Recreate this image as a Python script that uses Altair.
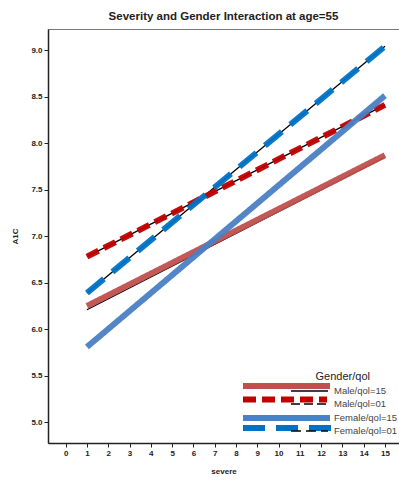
import altair as alt
import pandas as pd

# ---- data ----
series = ["Male/qol=15", "Male/qol=01", "Female/qol=15", "Female/qol=01"]
severe = [1, 15]
a1c_male15 = [6.25, 7.87]
a1c_male01 = [6.78, 8.41]
a1c_female15 = [5.81, 8.51]
a1c_female01 = [6.39, 9.04]
# thin black companion lines drawn underneath
black_series = ["Male/qol=15", "Male/qol=01", "Female/qol=01"]
black_male15 = [6.21, 7.85]
black_male01 = [6.78, 8.41]
black_female01 = [6.39, 9.04]

colors = ["#C0504D", "#C00000", "#4A80C4", "#0072C6"]
dashes = [[1, 0], [13, 6], [1, 0], [22, 11]]

x_ticks = list(range(0, 16))
y_ticks = [5.0, 5.5, 6.0, 6.5, 7.0, 7.5, 8.0, 8.5, 9.0]

# legend layout (pixels inside the plot area)
leg_y = [357, 370.5, 389, 399]
leg_x1 = [195, 195, 195, 195]
leg_x2 = [282, 279, 282, 291]
leg_black = ["Male/qol=15", "Male/qol=01", "Female/qol=01"]
leg_black_y = [362, 375, 402]
leg_black_dash = [[1, 0], [9, 4], [10, 5]]
leg_label_y = [362, 374.5, 389, 402]

W, H = 351, 414

vals = [a1c_male15, a1c_male01, a1c_female15, a1c_female01]
rows = []
for s, v in zip(series, vals):
    for x, y in zip(severe, v):
        rows.append({"group": s, "severe": x, "A1C": y})
df = pd.DataFrame(rows)

brows = []
for s, v in zip(black_series, [black_male15, black_male01, black_female01]):
    for x, y in zip(severe, v):
        brows.append({"group": s, "severe": x, "A1C": y})
bdf = pd.DataFrame(brows)

xs = alt.Scale(domain=[-0.83, 15.66], nice=False, zero=False)
ys = alt.Scale(domain=[4.778, 9.226], nice=False, zero=False)

xenc = alt.X("severe:Q", scale=xs, title="severe",
             axis=alt.Axis(values=x_ticks, format="d", grid=False))
yenc = alt.Y("A1C:Q", scale=ys, title="A1C",
             axis=alt.Axis(values=y_ticks, format=".1f", grid=False))

color = alt.Color("group:N", scale=alt.Scale(domain=series, range=colors),
                  legend=None)
dash = alt.StrokeDash("group:N", scale=alt.Scale(domain=series, range=dashes),
                      legend=None)

black = alt.Chart(bdf).mark_line(color="black", strokeWidth=1.3).encode(
    x=xenc, y=yenc, detail="group:N")

layers = [black]
for s in series:
    layers.append(
        alt.Chart(df).transform_filter(alt.datum.group == s)
        .mark_line(strokeWidth=6, strokeCap="butt", opacity=0.95)
        .encode(x=xenc, y=yenc, color=color, strokeDash=dash)
    )
data_layer = alt.layer(*layers)

# ---- manual legend ----
ldf = pd.DataFrame({"group": series, "y": leg_y, "x1": leg_x1, "x2": leg_x2,
                    "ly": leg_label_y})
lbdf = pd.DataFrame({"group": leg_black, "y": leg_black_y,
                     "x1": [243] * 3, "x2": [280] * 3})
px = alt.Scale(domain=[0, W], range=[0, W], nice=False, zero=False)
py = alt.Scale(domain=[0, H], range=[0, H], nice=False, zero=False)

leg_sw = alt.Chart(ldf).mark_rule(strokeWidth=6, strokeCap="butt").encode(
    x=alt.X("x1:Q", scale=px, axis=None), x2="x2:Q",
    y=alt.Y("y:Q", scale=py, axis=None), color=color, strokeDash=dash)
leg_bl = alt.Chart(lbdf).mark_rule(strokeWidth=1.3, color="black").encode(
    x=alt.X("x1:Q", scale=px, axis=None), x2="x2:Q",
    y=alt.Y("y:Q", scale=py, axis=None),
    strokeDash=alt.StrokeDash("group:N",
                              scale=alt.Scale(domain=leg_black, range=leg_black_dash),
                              legend=None))
leg_txt = alt.Chart(ldf).mark_text(align="left", baseline="middle",
                                   font="Liberation Sans", fontSize=9.5,
                                   color="#444").encode(
    x=alt.value(286), y=alt.Y("ly:Q", scale=py, axis=None), text="group:N")
leg_title = alt.Chart(pd.DataFrame({"t": ["Gender/qol"]})).mark_text(
    align="right", baseline="middle", font="Liberation Sans", fontSize=11,
    color="#222").encode(x=alt.value(322), y=alt.value(348), text="t:N")

legend_layer = alt.layer(leg_sw, leg_bl, leg_txt, leg_title).resolve_scale(
    strokeDash="independent")

chart = alt.layer(data_layer, legend_layer).resolve_scale(
    x="independent", y="independent", color="independent",
    strokeDash="independent"
).properties(
    width=W, height=H,
    title=alt.Title("Severity and Gender Interaction at age=55",
                    fontSize=11.5, fontWeight="bold",
                    font="Liberation Sans", color="#222", offset=7),
    padding={"left": 48, "top": 29, "right": 0, "bottom": 38},
    autosize=alt.AutoSizeParams(type="none"),
).configure_view(
    stroke="#777", strokeWidth=1
).configure_axis(
    labelFont="Liberation Sans", labelFontSize=8, labelFontWeight="bold",
    labelColor="#222", titleFont="Liberation Sans", titleFontSize=8,
    titleFontWeight="bold", titleColor="#222", domainColor="#222",
    domainWidth=1.5, tickColor="#222", tickSize=4
).configure_axisY(
    titlePadding=11
).configure_axisX(
    titlePadding=10
)

chart.save("out.html", embed_options={"renderer": "svg", "actions": False})
